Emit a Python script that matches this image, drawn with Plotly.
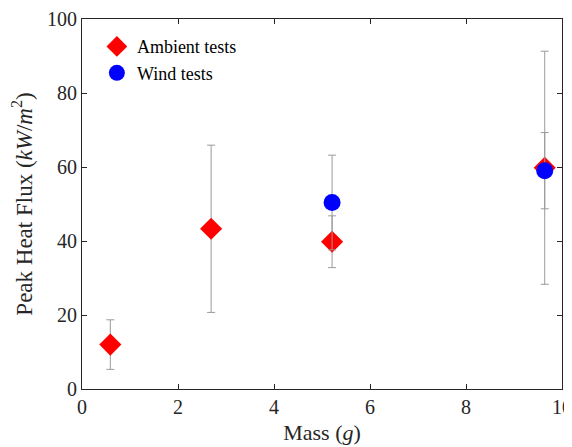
import plotly.graph_objects as go

# Data
ambient_mass = [0.59, 2.69, 5.21, 9.64]
ambient_flux = [12.0, 43.3, 39.8, 59.8]
ambient_err = [6.7, 22.6, 7.0, 31.5]

wind_mass = [5.21, 9.64]
wind_flux = [50.4, 59.0]
wind_err = [12.8, 10.3]

x_ticks = [0, 2, 4, 6, 8, 10]
y_ticks = [0, 20, 40, 60, 80, 100]

FONT = "Liberation Serif, Times New Roman, serif"
AX = "#262626"

fig = go.Figure()
fig.add_trace(go.Scatter(
    x=ambient_mass, y=ambient_flux, mode="markers", name="Ambient tests",
    marker=dict(symbol="diamond", color="#ff0000", size=17, line=dict(width=0)),
    error_y=dict(type="data", array=ambient_err, visible=True,
                 color="#9a9a9a", thickness=1, width=4),
))
fig.add_trace(go.Scatter(
    x=wind_mass, y=wind_flux, mode="markers", name="Wind tests",
    marker=dict(symbol="circle", color="#0000ff", size=17, line=dict(width=0)),
    error_y=dict(type="data", array=wind_err, visible=True,
                 color="#9a9a9a", thickness=1, width=4),
))

axis_common = dict(
    showline=True, linecolor=AX, linewidth=1, mirror="ticks",
    ticks="inside", ticklen=5, tickcolor=AX, tickwidth=1,
    showgrid=False, zeroline=False, automargin=False,
    tickfont=dict(family=FONT, size=20, color=AX),
)
fig.update_xaxes(range=[0, 10], tickvals=x_ticks,
                 title=dict(text="Mass (<i>g</i>)", font=dict(family=FONT, size=22, color=AX), standoff=7),
                 **axis_common)
fig.update_yaxes(range=[0, 100], tickvals=y_ticks,
                 title=dict(text="Peak Heat Flux (<i>kW</i>/<i>m</i><sup>2</sup>)",
                            font=dict(family=FONT, size=23, color=AX), standoff=9),
                 **axis_common)

# page body has an 8px default margin, so the figure is sized to fit the window
fig.update_layout(
    width=564, height=439,
    margin=dict(l=74, r=10, t=11, b=58),
    paper_bgcolor="white", plot_bgcolor="white",
    showlegend=True,
    legend=dict(x=0.031, y=0.975, xanchor="left", yanchor="top",
                bgcolor="rgba(0,0,0,0)", borderwidth=0,
                font=dict(family=FONT, size=18, color="black"),
                tracegroupgap=0, itemwidth=30),
)

fig.write_html("out.html")
